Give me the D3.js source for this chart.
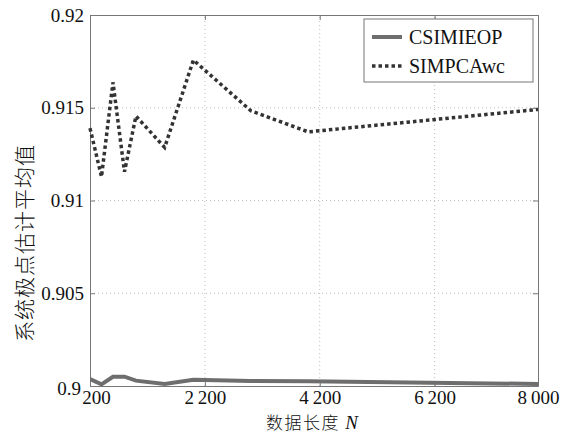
<!DOCTYPE html>
<html>
<head>
<meta charset="utf-8">
<script src="https://cdn.jsdelivr.net/npm/d3@7"></script>
<style>
  body { margin: 0; background: #fff; }
  text { font-family: "Liberation Serif", "Times New Roman", serif; fill: #111; }
  .cjk { font-family: "Noto Sans CJK SC", sans-serif; font-weight: 300; }
</style>
</head>
<body>
<div id="chart"></div>
<script>
var lengthN = [200, 400, 600, 800, 1000, 1500, 2000, 3000, 4000, 8000];
var csimieop = [0.90038, 0.90009, 0.90050, 0.90050, 0.90029, 0.90011, 0.90034, 0.90027, 0.90025, 0.90011];
var simpcawc = [0.91390, 0.91128, 0.91637, 0.91155, 0.91455, 0.91286, 0.91757, 0.91484, 0.91370, 0.91491];
var xTicks = [200, 2200, 4200, 6200, 8000];
var yTicks = [0.9, 0.905, 0.91, 0.915, 0.92];
var yTickLabels = ["0.9", "0.905", "0.91", "0.915", "0.92"];

var width = 563, height = 434;
var margin = {left: 90, right: 25, top: 15, bottom: 48};

var svg = d3.select("#chart").append("svg")
    .attr("width", width)
    .attr("height", height);

var x = d3.scaleLinear().domain([200, 8000]).range([margin.left, width - margin.right]);
var y = d3.scaleLinear().domain([0.9, 0.92]).range([height - margin.bottom, margin.top]);

var x0 = x.range()[0], x1 = x.range()[1], y0 = y.range()[0], y1 = y.range()[1];

// grid
svg.append("g").selectAll("line").data(xTicks.slice(1, -1)).enter().append("line")
    .attr("x1", function (d) { return x(d); }).attr("x2", function (d) { return x(d); })
    .attr("y1", y0).attr("y2", y1)
    .attr("stroke", "#bbb").attr("stroke-width", 1).attr("stroke-dasharray", "1,3");
svg.append("g").selectAll("line").data(yTicks.slice(1, -1)).enter().append("line")
    .attr("x1", x0).attr("x2", x1)
    .attr("y1", function (d) { return y(d); }).attr("y2", function (d) { return y(d); })
    .attr("stroke", "#bbb").attr("stroke-width", 1).attr("stroke-dasharray", "1,3");

// axes with inward ticks
var fmtX = function (d) {
    var s = String(d);
    return s.length > 3 ? s.slice(0, s.length - 3) + "\u2009" + s.slice(-3) : s;
};
var gx = svg.append("g").attr("transform", "translate(0," + y0 + ")")
    .call(d3.axisBottom(x).tickValues(xTicks).tickSizeInner(-5).tickSizeOuter(0).tickPadding(5).tickFormat(fmtX));
var gy = svg.append("g").attr("transform", "translate(" + x0 + ",0)")
    .call(d3.axisLeft(y).tickValues(yTicks).tickSizeInner(-5).tickSizeOuter(0).tickPadding(6)
        .tickFormat(function (d, i) { return yTickLabels[i]; }));
svg.append("g").attr("transform", "translate(0," + y1 + ")")
    .call(d3.axisTop(x).tickValues(xTicks).tickSizeInner(-5).tickSizeOuter(0).tickFormat(""));
svg.append("g").attr("transform", "translate(" + x1 + ",0)")
    .call(d3.axisRight(y).tickValues(yTicks).tickSizeInner(-5).tickSizeOuter(0).tickFormat(""));

svg.selectAll(".domain").attr("stroke", "#777");
svg.selectAll(".tick line").attr("stroke", "#777");
gx.selectAll("text").attr("font-size", 19).attr("font-family", "Liberation Serif").attr("fill", "#111");
gy.selectAll("text").attr("font-size", 19).attr("font-family", "Liberation Serif").attr("fill", "#111");
gy.selectAll(".tick").filter(function (d) { return d === 0.9; }).select("text")
    .attr("dy", "0.45em").attr("x", -9);
gx.selectAll(".tick").filter(function (d) { return d === 200; }).select("text").attr("dx", 6);

// series
svg.append("clipPath").attr("id", "plotclip").append("rect")
    .attr("x", x0).attr("y", y1).attr("width", x1 - x0).attr("height", y0 - y1);

var line = d3.line()
    .x(function (d, i) { return x(lengthN[i]); })
    .y(function (d) { return y(d); });

svg.append("path").datum(csimieop)
    .attr("clip-path", "url(#plotclip)")
    .attr("d", line).attr("fill", "none")
    .attr("stroke", "#6e6e6e").attr("stroke-width", 4);

svg.append("path").datum(simpcawc)
    .attr("d", line).attr("fill", "none")
    .attr("stroke", "#333").attr("stroke-width", 3.5).attr("stroke-dasharray", "3.5,3");

// legend
var lg = svg.append("g");
lg.append("rect").attr("x", 364).attr("y", 19).attr("width", 169).attr("height", 63)
    .attr("fill", "#fff").attr("stroke", "#777").attr("stroke-width", 1);
var legendItems = [
    {name: "CSIMIEOP", color: "#6e6e6e", dash: null, w: 4},
    {name: "SIMPCAwc", color: "#333", dash: "3.5,3", w: 3.5}
];
legendItems.forEach(function (it, i) {
    var ly = 37 + i * 29;
    lg.append("line").attr("x1", 372).attr("x2", 402).attr("y1", ly).attr("y2", ly)
        .attr("stroke", it.color).attr("stroke-width", it.w)
        .attr("stroke-dasharray", it.dash);
    lg.append("text").attr("x", 409).attr("y", ly).attr("dy", "0.35em")
        .attr("font-size", 20).text(it.name);
});

// axis titles
var xt = svg.append("text").attr("x", 312).attr("y", 429).attr("text-anchor", "middle");
xt.append("tspan").attr("class", "cjk").attr("font-size", 17).attr("letter-spacing", 1.5).text("数据长度 ");
xt.append("tspan").attr("font-size", 19).attr("font-style", "italic").text("N");

svg.append("text").attr("class", "cjk")
    .attr("transform", "translate(32,243) rotate(-90)")
    .attr("text-anchor", "middle").attr("font-size", 21).attr("letter-spacing", 1)
    .text("系统极点估计平均值");
</script>
</body>
</html>
